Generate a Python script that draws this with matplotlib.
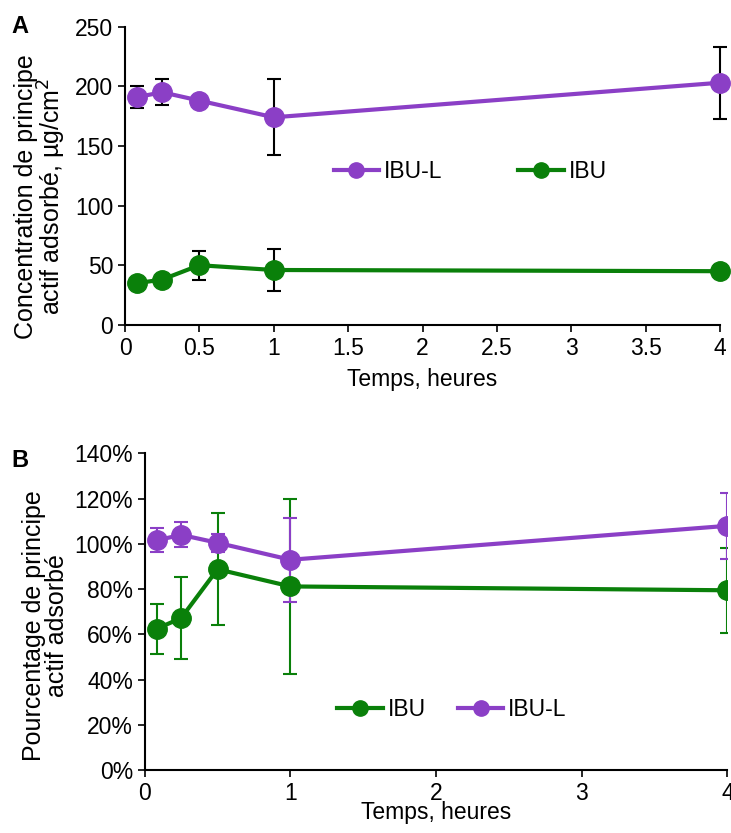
import matplotlib
matplotlib.use("Agg")
import matplotlib.pyplot as plt
from matplotlib.ticker import PercentFormatter, MultipleLocator
from matplotlib.lines import Line2D

plt.rcParams['font.family'] = ['Liberation Sans', 'DejaVu Sans']

# ---- data ----
time_h = [0.083, 0.25, 0.5, 1, 4]

# Panel A: concentration (µg/cm²)
conc_ibul = [191, 195, 188, 174, 203]
conc_ibul_err = [9, 11, 4, 32, 30]
conc_ibu = [35, 38, 50, 46, 45]
conc_ibu_err = [3, 3, 12.3, 18, 5]

# Panel B: percentage (%)
pct_ibu = [62.5, 67.2, 88.8, 81.2, 79.5]
pct_ibu_err = [11, 18, 24.8, 38.7, 18.7]
pct_ibul = [101.6, 104.0, 100.5, 93.0, 108.0]
pct_ibul_err = [5.3, 5.5, 4, 18.5, 14.5]

purple = '#8B3FC6'
green = '#0A800A'

fig = plt.figure(figsize=(7.31, 8.33), dpi=100)

axA = fig.add_axes([0.171, 0.610, 0.814, 0.358])
axB = fig.add_axes([0.198, 0.0756, 0.797, 0.380])

lw = 3
ms = 14
fs = 16.5

def handle(c):
    return Line2D([], [], color=c, lw=lw, marker='o', ms=11)

# Panel A
axA.errorbar(time_h, conc_ibul, yerr=conc_ibul_err, color=purple, ecolor='black',
             elinewidth=1.5, capsize=5, capthick=1.5, lw=lw, marker='o', ms=ms,
             clip_on=False, zorder=3)
axA.errorbar(time_h, conc_ibu, yerr=conc_ibu_err, color=green, ecolor='black',
             elinewidth=1.5, capsize=5, capthick=1.5, lw=lw, marker='o', ms=ms,
             clip_on=False, zorder=3)
axA.set_xlim(0, 4)
axA.set_ylim(0, 250)
axA.xaxis.set_major_locator(MultipleLocator(0.5))
axA.yaxis.set_major_locator(MultipleLocator(50))
axA.xaxis.set_major_formatter(plt.FuncFormatter(lambda v, p: f"{v:g}"))
axA.set_xlabel('Temps, heures', fontsize=fs, labelpad=6)
axA.set_ylabel('Concentration de principe\nactif adsorbé, µg/cm$^2$', fontsize=18,
               linespacing=0.95)
axA.yaxis.set_label_coords(-0.095, 0.43)
axA.legend(handles=[handle(purple), handle(green)], labels=['IBU-L', 'IBU'],
           loc='center', bbox_to_anchor=(0.58, 0.513), ncol=2,
           frameon=False, fontsize=fs, handlelength=2.0, handletextpad=0.2,
           columnspacing=3.3)

# Panel B
axB.errorbar(time_h, pct_ibu, yerr=pct_ibu_err, color=green, ecolor=green,
             elinewidth=1.5, capsize=5, capthick=1.5, lw=lw, marker='o', ms=ms,
             zorder=3)
axB.errorbar(time_h, pct_ibul, yerr=pct_ibul_err, color=purple, ecolor=purple,
             elinewidth=1.5, capsize=5, capthick=1.5, lw=lw, marker='o', ms=ms,
             zorder=3)
axB.set_xlim(0, 4)
axB.set_ylim(0, 140)
axB.xaxis.set_major_locator(MultipleLocator(1))
axB.yaxis.set_major_locator(MultipleLocator(20))
axB.yaxis.set_major_formatter(PercentFormatter(decimals=0))
axB.set_xlabel('Temps, heures', fontsize=fs, labelpad=-3)
axB.set_ylabel('Pourcentage de principe\nactif adsorbé', fontsize=18,
               linespacing=0.95)
axB.yaxis.set_label_coords(-0.13, 0.455)
axB.legend(handles=[handle(green), handle(purple)], labels=['IBU', 'IBU-L'],
           loc='center', bbox_to_anchor=(0.527, 0.19), ncol=2,
           frameon=False, fontsize=fs, handlelength=2.0, handletextpad=0.2,
           columnspacing=1.4)

for ax in (axA, axB):
    ax.spines['top'].set_visible(False)
    ax.spines['right'].set_visible(False)
    ax.spines['left'].set_linewidth(1.5)
    ax.spines['bottom'].set_linewidth(1.5)
    ax.tick_params(axis='both', labelsize=fs, direction='out', length=5, width=1.2)

fig.text(0.016, 0.968, 'A', fontsize=17, fontweight='bold', va='center')
fig.text(0.016, 0.447, 'B', fontsize=17, fontweight='bold', va='center')

fig.savefig('out.png', dpi=100)
